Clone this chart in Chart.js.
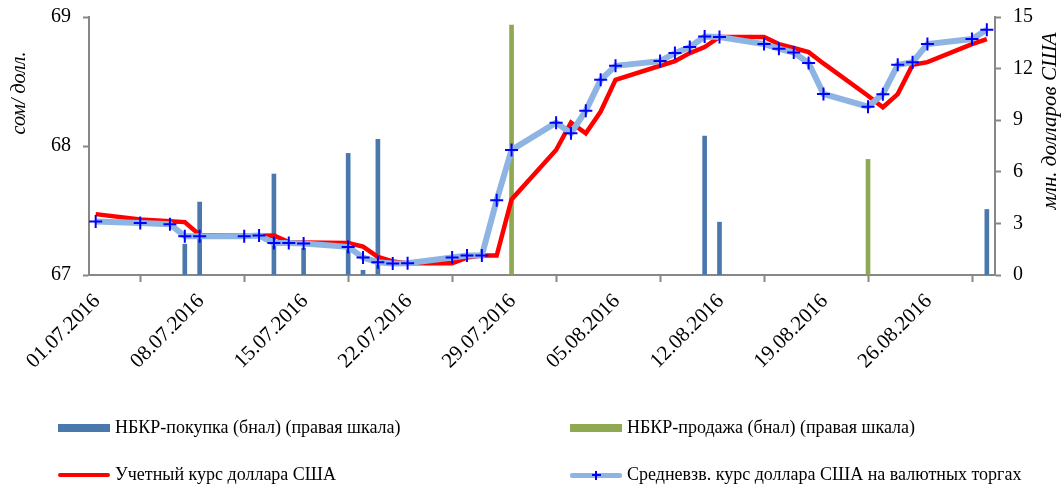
<!DOCTYPE html>
<html>
<head>
<meta charset="utf-8">
<script src="https://cdn.jsdelivr.net/npm/chart.js@4.4.1/dist/chart.umd.min.js"></script>
<style>
  html, body { margin: 0; padding: 0; background: #fff; }
  #wrap { position: relative; width: 1064px; height: 490px; }
  #chart { position: absolute; left: 0; top: 0; }
  .leg { position: absolute; font-family: 'Liberation Serif', 'Times New Roman', serif; font-size: 18px; color: #000; white-space: nowrap; line-height: 20px; }
  .sw { position: absolute; }
</style>
</head>
<body>
<div id="wrap">
  <canvas id="chart" width="1064" height="490"></canvas>
  <div id="legend"></div>
</div>
<script>
// ── Data ─────────────────────────────────────────────────────────
const dates = ['01.07','04.07','06.07','07.07','08.07','11.07','12.07','13.07','14.07','15.07',
  '18.07','19.07','20.07','21.07','22.07','25.07','26.07','27.07','28.07','29.07',
  '01.08','02.08','03.08','04.08','05.08','08.08','09.08','10.08','11.08','12.08',
  '15.08','16.08','17.08','18.08','19.08','22.08','23.08','24.08','25.08','26.08',
  '29.08','30.08'];

const officialRate = [67.472,67.430,67.417,67.410,67.310,67.305,67.305,67.306,67.255,67.252,
  67.248,67.220,67.140,67.105,67.092,67.092,67.135,67.151,67.151,67.586,
  67.969,68.181,68.099,68.267,68.513,68.622,68.658,68.720,68.767,68.845,
  68.845,68.790,68.760,68.728,68.640,68.390,68.300,68.402,68.629,68.650,
  68.790,68.829];

const avgRate = [67.415,67.404,67.394,67.300,67.300,67.300,67.306,67.249,67.249,67.244,
  67.218,67.135,67.099,67.089,67.091,67.135,67.151,67.151,67.580,67.969,
  68.181,68.099,68.274,68.513,68.622,68.658,68.720,68.767,68.849,68.845,
  68.790,68.754,68.725,68.643,68.404,68.305,68.402,68.629,68.650,68.790,
  68.829,68.901];

const buyDates = ['07.07','08.07','13.07','15.07','18.07','19.07','20.07','11.08','12.08','30.08'];
const buyValues = [1.79,4.24,5.87,1.56,7.07,0.27,7.89,8.08,3.07,3.81];

const sellDates = ['29.07','22.08'];
const sellValues = [14.53,6.72];

const tickDays = [0, 7, 14, 21, 28, 35, 42, 49, 56];
const leftTicks = [67, 68, 69];
const rightTicks = [0, 3, 6, 9, 12, 15];

// ── Helpers ──────────────────────────────────────────────────────
// day index from 01.07.2016, point sits in the middle of its day
function dayIndex(s) {
  const [d, m] = s.split('.').map(Number);
  return (m === 7 ? d - 1 : 30 + d);
}
function pts(ds, vs) {
  return ds.map((s, i) => ({ x: dayIndex(s) + 0.45, y: vs[i] }));
}
function dayLabel(v) {
  const dt = new Date(2016, 6, 1 + v);
  const dd = String(dt.getDate()).padStart(2, '0');
  const mm = String(dt.getMonth() + 1).padStart(2, '0');
  return dd + '.' + mm + '.2016';
}

const SERIF = "'Liberation Serif', 'Times New Roman', serif";
const AXIS = '#878787';

// ── Axis titles (rotated bottom-to-top on both sides) ────────────
const axisTitles = {
  id: 'axisTitles',
  afterDraw(chart) {
    const ctx = chart.ctx;
    ctx.save();
    ctx.fillStyle = '#000';
    ctx.textAlign = 'center';
    ctx.textBaseline = 'middle';
    [['сом/ долл.', 20, 93, 20], ['млн. долларов США', 1050, 121, 21]].forEach(([t, x, y, fs]) => {
      ctx.save();
      ctx.font = 'italic ' + fs + 'px ' + SERIF;
      ctx.translate(x, y);
      ctx.rotate(-Math.PI / 2);
      ctx.fillText(t, 0, 0);
      ctx.restore();
    });
    ctx.restore();
  }
};

// vertical axes: fixed width, no extra label padding above/below
function fitY(width) {
  return s => {
    s.width = width;
    s.paddingTop = 0;
    s.paddingBottom = 0;
  };
}

// ── Chart ────────────────────────────────────────────────────────
Chart.defaults.font.family = SERIF;
Chart.defaults.color = '#000';

new Chart(document.getElementById('chart'), {
  type: 'line',
  data: {
    datasets: [
      {
        label: 'Средневзв. курс доллара США на валютных торгах',
        data: pts(dates, avgRate),
        yAxisID: 'y',
        borderColor: '#8db4e2',
        borderWidth: 6,
        tension: 0,
        pointStyle: 'cross',
        pointRadius: 6.5,
        pointBorderColor: '#0000ff',
        pointBackgroundColor: '#0000ff',
        pointBorderWidth: 2,
        order: 0
      },
      {
        label: 'Учетный курс доллара США',
        data: pts(dates, officialRate),
        yAxisID: 'y',
        borderColor: '#ff0000',
        borderWidth: 4.5,
        tension: 0,
        pointRadius: 0,
        order: 1
      },
      {
        type: 'bar',
        label: 'НБКР-покупка (бнал) (правая шкала)',
        data: pts(buyDates, buyValues),
        yAxisID: 'y1',
        backgroundColor: '#4a78ad',
        barThickness: 4,
        grouped: false,
        order: 2
      },
      {
        type: 'bar',
        label: 'НБКР-продажа (бнал) (правая шкала)',
        data: pts(sellDates, sellValues),
        yAxisID: 'y1',
        backgroundColor: '#8fa852',
        barThickness: 4,
        grouped: false,
        order: 3
      }
    ]
  },
  options: {
    responsive: false,
    animation: false,
    layout: { padding: { top: 17, left: 0, right: 0, bottom: 0 } },
    plugins: { legend: { display: false }, tooltip: { enabled: false } },
    scales: {
      x: {
        type: 'linear',
        min: 0,
        max: 61,
        offset: false,
        afterBuildTicks: s => { s.ticks = tickDays.map(v => ({ value: v })); },
        afterFit: s => { s.height = 490 - 275; },
        border: { display: true, color: AXIS, width: 2 },
        grid: { drawOnChartArea: false, color: AXIS, tickLength: 7, tickWidth: 2 },
        ticks: {
          font: { size: 21 },
          minRotation: 45,
          maxRotation: 45,
          padding: 7,
          labelOffset: 8,
          autoSkip: false,
          callback: v => dayLabel(v)
        }
      },
      y: {
        position: 'left',
        min: 67,
        max: 69,
        afterBuildTicks: s => { s.ticks = leftTicks.map(v => ({ value: v })); },
        afterFit: fitY(89),
        border: { display: true, color: AXIS, width: 2 },
        grid: { drawOnChartArea: false, color: AXIS, tickLength: 6, tickWidth: 2 },
        ticks: { font: { size: 20 }, padding: 12 }
      },
      y1: {
        position: 'right',
        min: 0,
        max: 15,
        afterBuildTicks: s => { s.ticks = rightTicks.map(v => ({ value: v })); },
        afterFit: fitY(1064 - 995),
        border: { display: true, color: AXIS, width: 2 },
        grid: { drawOnChartArea: false, color: AXIS, tickLength: 6, tickWidth: 2 },
        ticks: { font: { size: 20 }, padding: 12 }
      }
    }
  },
  plugins: [axisTitles]
});

// ── Legend (two columns, two rows) ───────────────────────────────
const legendItems = [
  { text: 'НБКР-покупка (бнал) (правая шкала)', kind: 'box', color: '#4a78ad', x: 58, y: 428 },
  { text: 'НБКР-продажа (бнал) (правая шкала)', kind: 'box', color: '#8fa852', x: 570, y: 428 },
  { text: 'Учетный курс доллара США', kind: 'line', color: '#ff0000', x: 58, y: 475 },
  { text: 'Средневзв. курс доллара США на валютных торгах', kind: 'mark', color: '#8db4e2', x: 570, y: 475 }
];

document.getElementById('legend').innerHTML = legendItems.map(it => {
  let sw = '';
  if (it.kind === 'box') {
    sw = `<div class="sw" style="left:${it.x}px;top:${it.y - 4}px;width:52px;height:8px;background:${it.color}"></div>`;
  } else if (it.kind === 'line') {
    sw = `<div class="sw" style="left:${it.x}px;top:${it.y - 2}px;width:52px;height:4px;border-radius:2px;background:${it.color}"></div>`;
  } else {
    sw = `<div class="sw" style="left:${it.x}px;top:${it.y - 2.5}px;width:52px;height:5px;border-radius:2px;background:${it.color}"></div>
          <div class="sw" style="left:${it.x + 25}px;top:${it.y - 4.5}px;width:2px;height:9px;background:#0000ff"></div>
          <div class="sw" style="left:${it.x + 21.5}px;top:${it.y - 1}px;width:9px;height:2px;background:#0000ff"></div>`;
  }
  return sw + `<div class="leg" style="left:${it.x + 57}px;top:${it.y - 11}px">${it.text}</div>`;
}).join('');
</script>
</body>
</html>
